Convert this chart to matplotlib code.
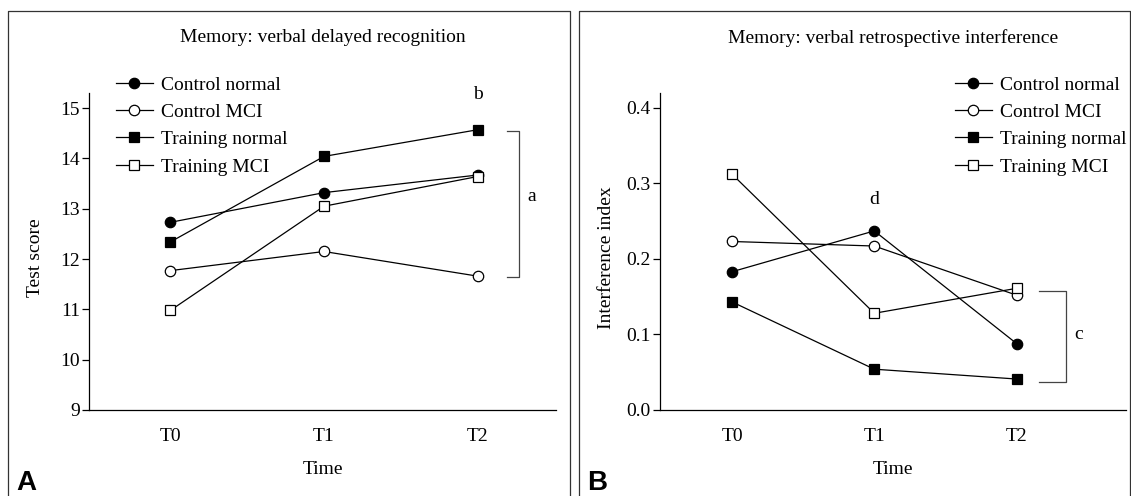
import matplotlib.pyplot as plt
from matplotlib.lines import Line2D

plt.rcParams['font.family'] = ['Liberation Serif', 'DejaVu Serif']

# data
times = ['T0', 'T1', 'T2']
groups = ['Control normal', 'Control MCI', 'Training normal', 'Training MCI']

score_ctrl_normal = [12.73, 13.32, 13.67]
score_ctrl_mci = [11.77, 12.15, 11.66]
score_train_normal = [12.34, 14.04, 14.57]
score_train_mci = [10.98, 13.05, 13.64]

interf_ctrl_normal = [0.183, 0.237, 0.088]
interf_ctrl_mci = [0.223, 0.217, 0.152]
interf_train_normal = [0.143, 0.054, 0.041]
interf_train_mci = [0.312, 0.128, 0.161]

styles = [('o', 'black'), ('o', 'white'), ('s', 'black'), ('s', 'white')]

W, H = 1131, 496
fig = plt.figure(figsize=(W / 100, H / 100), dpi=100)

FS = 14


def px(x, y):
    return x / W, 1 - y / H


def draw_panel(left, right, series, ylim, yticks, yfmt, ylabel, title, xlim):
    l, _ = px(left, 0)
    r, _ = px(right, 0)
    _, b = px(0, 410)
    _, t = px(0, 93)
    ax = fig.add_axes([l, b, r - l, t - b])
    x = range(len(times))
    for vals, (m, fc), name in zip(series, styles, groups):
        ax.plot(x, vals, color='black', lw=0.9, marker=m, markersize=7.5 if m == 'o' else 7,
                markerfacecolor=fc, markeredgecolor='black', markeredgewidth=0.9,
                label=name, clip_on=False, zorder=3)
    ax.set_xlim(*xlim)
    ax.set_ylim(*ylim)
    ax.set_yticks(yticks)
    ax.set_yticklabels([yfmt.format(v) for v in yticks])
    ax.set_xticks(list(x))
    ax.set_xticklabels(times)
    ax.spines['top'].set_visible(False)
    ax.spines['right'].set_visible(False)
    for s in ('left', 'bottom'):
        ax.spines[s].set_linewidth(0.9)
    ax.tick_params(axis='y', direction='out', length=5, width=0.9, pad=1.5, labelsize=FS)
    ax.tick_params(axis='x', length=0, pad=13, labelsize=FS)
    ax.set_ylabel(ylabel, fontsize=FS)
    ax.set_xlabel('Time', fontsize=FS)
    ax.yaxis.set_label_coords(-0.096, 0.48)
    ax.xaxis.set_label_coords(0.5, -0.16)
    cx = (left + right) / 2
    fig.text(*px(cx, 38), title, ha='center', va='center', fontsize=FS)
    return ax


# panel A
axA = draw_panel(89, 556,
                 [score_ctrl_normal, score_ctrl_mci, score_train_normal, score_train_mci],
                 (9, 15.3), [9, 10, 11, 12, 13, 14, 15], '{:.0f}', 'Test score',
                 'Memory: verbal delayed recognition', (-0.53, 2.51))
axA.plot([2.19, 2.27, 2.27, 2.19], [14.54, 14.54, 11.65, 11.65], color='#444444',
         lw=0.9, clip_on=False)
axA.text(2.35, 13.24, 'a', fontsize=FS, ha='center', va='center')
axA.text(2, 15.28, 'b', fontsize=FS, ha='center', va='center')

# panel B
axB = draw_panel(660, 1126,
                 [interf_ctrl_normal, interf_ctrl_mci, interf_train_normal, interf_train_mci],
                 (0, 0.4195), [0.0, 0.1, 0.2, 0.3, 0.4], '{:.1f}', 'Interference index',
                 'Memory: verbal retrospective interference', (-0.507, 2.77))
axB.plot([2.16, 2.345, 2.345, 2.16], [0.157, 0.157, 0.0376, 0.0376], color='#444444',
         lw=0.9, clip_on=False)
axB.text(2.44, 0.0995, 'c', fontsize=FS, ha='center', va='center')
axB.text(1, 0.278, 'd', fontsize=FS, ha='center', va='center')

# legends
for ax, lx in ((axA, 116), (axB, 955)):
    ax.legend(loc='upper left', bbox_to_anchor=px(lx, 76), bbox_transform=fig.transFigure,
              frameon=False, fontsize=FS, borderpad=0, borderaxespad=0,
              handlelength=1.9, handletextpad=0.4, labelspacing=0.5)

# panel frames
fc = '#333333'
for x0, x1 in ((8, 570), (579, 1130)):
    fig.add_artist(Line2D([x0 / W, x0 / W, x1 / W, x1 / W], [0, 1 - 11 / H, 1 - 11 / H, 0],
                          color=fc, lw=0.9))

fig.text(*px(16, 483), 'A', fontsize=20, fontweight='bold', family='Liberation Sans',
         ha='left', va='center')
fig.text(*px(587, 483), 'B', fontsize=20, fontweight='bold', family='Liberation Sans',
         ha='left', va='center')

fig.savefig('out.png', dpi=100)
